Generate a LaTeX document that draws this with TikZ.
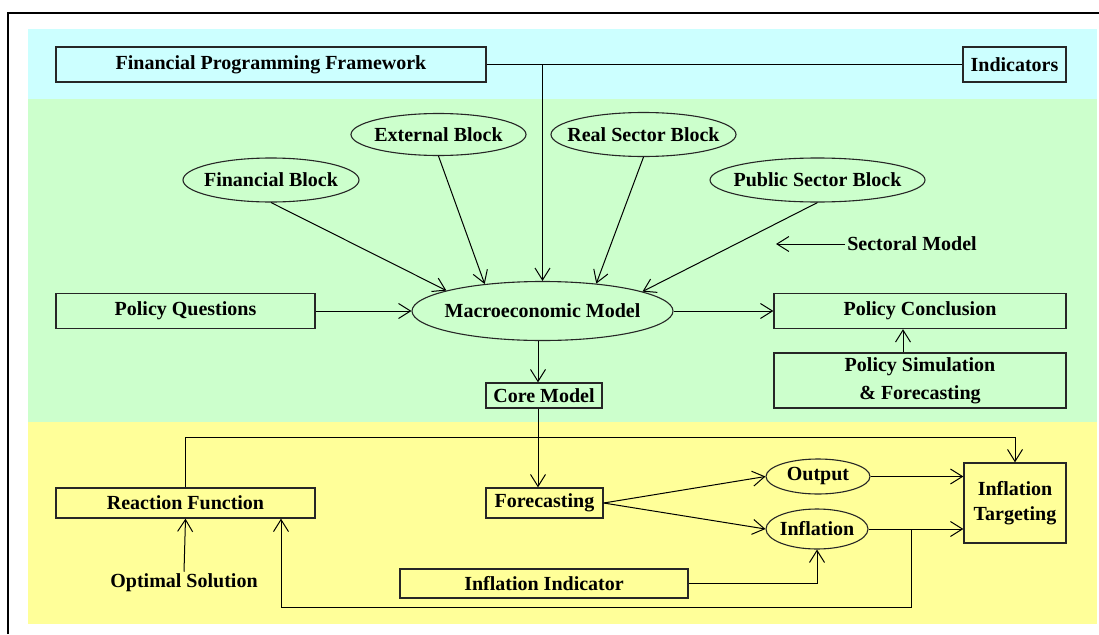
\documentclass[tikz,border=0pt]{standalone}
\usepackage{fontspec}
\setmainfont{Liberation Serif}
\usetikzlibrary{calc,shapes.geometric,arrows.meta}
\definecolor{topband}{HTML}{CCFFFF}
\definecolor{midband}{HTML}{CCFFCC}
\definecolor{lowband}{HTML}{FFFF99}

\begin{document}
\begin{tikzpicture}[
        x=1pt, y=-1pt,
        conn/.style={line width=1pt, -{Straight Barb[length=12pt,width=15pt]}},
    ]
    % boxes
    \tikzstyle{blk}=[draw=black!85, line width=1.3pt, rectangle, inner sep=0, align=center, font=\fontsize{20}{25}\selectfont\bfseries]
    % ovals (size set by minimum width/height)
    \tikzstyle{ell}=[draw=black!85, line width=1.1pt, ellipse, inner sep=-40pt, font=\fontsize{20}{25}\selectfont\bfseries]
    % free labels
    \tikzstyle{lbl}=[inner sep=2pt, font=\fontsize{20}{25}\selectfont\bfseries]
    \useasboundingbox (0,0) rectangle (1099,634);
    % bands and frame
    \fill[topband] (28,29) rectangle (1097,99);
    \fill[midband] (28,99) rectangle (1097,422);
    \fill[lowband] (28,422) rectangle (1097,624);
    \draw[line width=2.8pt] (8,634) -- (8,13) -- (1099,13);
    % top band
    \node[blk, minimum width=430pt, minimum height=35pt] (fpf) at (271,64.5) {Financial Programming Framework};
    \node[blk, minimum width=103pt, minimum height=35pt] (ind) at (1014.5,64.5) {Indicators};
    % sector blocks
    \node[ell, minimum width=176pt, minimum height=44pt] (fin) at (271,180) {Financial Block};
    \node[ell, minimum width=175pt, minimum height=42pt] (ext) at (438.5,134.5) {External Block};
    \node[ell, minimum width=185pt, minimum height=44pt] (real) at (643.5,134.5) {Real Sector Block};
    \node[ell, minimum width=215pt, minimum height=44pt] (pub) at (817.5,180) {Public Sector Block};
    \node[lbl] (sec) at (912,244) {Sectoral Model};
    \coordinate (sectip) at (776,244);
    % model row
    \node[ell, minimum width=261pt, minimum height=59pt] (mac) at (542.5,311) {Macroeconomic Model};
    \node[blk, minimum width=259pt, minimum height=35pt] (pq) at (185.5,311) {Policy Questions};
    \node[blk, minimum width=292pt, minimum height=35pt] (pc) at (920,311) {Policy Conclusion};
    \node[blk, minimum width=292pt, minimum height=55pt] (ps) at (920,380.5) {Policy Simulation\\[3pt]\& Forecasting};
    \node[blk, minimum width=116pt, minimum height=25pt] (core) at (544,395.5) {Core Model};
    % lower band
    \node[blk, minimum width=259pt, minimum height=30pt] (rf) at (185.5,503) {Reaction Function};
    \node[lbl] (os) at (184,583) {Optimal Solution};
    \node[blk, minimum width=117pt, minimum height=30pt] (fc) at (544.5,503) {Forecasting};
    \node[blk, minimum width=288pt, minimum height=29pt] (ii) at (544,583.5) {Inflation Indicator};
    \node[ell, minimum width=104pt, minimum height=35pt] (out) at (818,476.5) {Output};
    \node[ell, minimum width=102pt, minimum height=40pt] (inf) at (817,529) {Inflation};
    \node[blk, minimum width=102pt, minimum height=80pt] (it) at (1015,503) {Inflation\\Targeting};
    \coordinate (loopa) at (911,529);
    \coordinate (loopb) at (281,607);

    \draw[line width=1pt] (fpf.east) -- (ind.west);
    \draw[conn] (mac.north |- fpf.east) -- (mac.north);
    \draw[conn] (fin.south) -- (mac.168);
    \draw[conn] (ext.south) -- (mac.155);
    \draw[conn] (real.south) -- (mac.27);
    \draw[conn] (pub.south) -- (mac.11);
    \draw[conn] (sec.west) -- (sectip);
    \draw[conn] (pq.east) -- (mac.west);
    \draw[conn] (mac.east) -- (pc.west);
    \draw[conn] ([xshift=-17pt]ps.north) -- ([xshift=-17pt]pc.south);
    \draw[conn] ([xshift=-4.5pt]mac.south) -- ([xshift=-6pt]core.north);
    \draw[conn] ([xshift=-6pt]core.south) -- ([xshift=-6.5pt]fc.north);
    \draw[conn] (rf.north) -- ++(0,-50) -| (it.north);
    \draw[conn] (os.north) -- (rf.south);
    \draw[conn] (fc.east) -- (out.west);
    \draw[conn] (fc.east) -- (inf.west);
    \draw[conn] (out.east) -- (out.east -| it.west);
    \draw[conn] (inf.east) -- (inf.east -| it.west);
    \draw[conn] (ii.east) -| (inf.south);
    \draw[conn] (loopa) |- (loopb) -- (loopb |- rf.south);
\end{tikzpicture}
\end{document}
